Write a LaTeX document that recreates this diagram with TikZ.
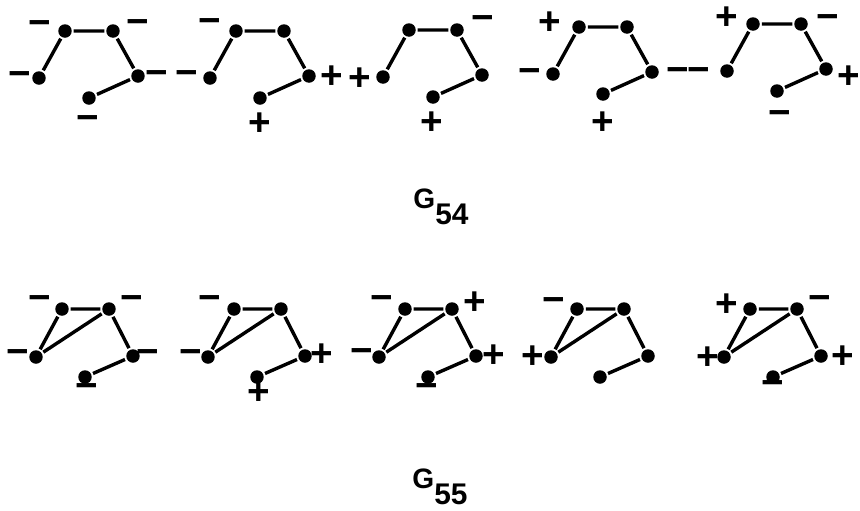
\documentclass[tikz,border=0pt]{standalone}
\usepackage{fontspec}
\setmainfont{Liberation Sans}
\usepackage{tikz}
\tikzset{
  gdot/.style={circle,fill=black,inner sep=0pt,minimum size=0.27cm,outer sep=0.04cm},
  gedge/.style={line width=0.068cm,draw=black},
  gsign/.style={inner sep=0pt,font=\fontsize{22}{22}\selectfont\bfseries},
  gname/.style={inner sep=0pt,font=\bfseries}
}
\newcommand{\gsub}[1]{{\fontsize{16}{16}\selectfont G}\raisebox{-9pt}{\fontsize{17}{17}\selectfont #1}}

\begin{document}
\begin{tikzpicture}[x=0.02cm,y=-0.02cm]
  \useasboundingbox (0,0) rectangle (860,511);
  % upper row: five copies of G54
  \foreach \i/\x/\y in {1/39/78,2/210/78,3/383/77,4/553/74,5/727/71}{
    \begin{scope}[shift={(\x,\y)}]
      \node[gdot] (a\i-l) at (0,0) {};
      \node[gdot] (a\i-tl) at (26,-47) {};
      \node[gdot] (a\i-tr) at (74,-47) {};
      \node[gdot] (a\i-r) at (99,-2) {};
      \node[gdot] (a\i-b) at (50,20) {};
    \end{scope}
    \draw[gedge] (a\i-l) -- (a\i-tl) -- (a\i-tr) -- (a\i-r) -- (a\i-b);
  }
  \foreach \n/\s/\x/\y in {a1-ptl/−/40/28, a1-ptr/−/138/27, a1-pl/−/20/79, a1-pr/−/157/78, a1-pb/−/88/123,
      a2-ptl/−/210/26, a2-pl/−/187/78, a2-pr/+/332/77, a2-pb/+/260/124,
      a3-pl/+/360/79, a3-ptr/−/483/23, a3-pb/+/432/123,
      a4-ptl/+/550/23, a4-pl/−/530/76, a4-pr/−/678/75, a4-pb/+/603/123,
      a5-ptl/+/727/18, a5-ptr/−/828/22, a5-pl/−/699/75, a5-pr/+/849/77, a5-pb/−/780/118}
    \node[gsign] (\n) at (\x,\y) {\s};
  \node[gname] (g54) at (441,207) {\gsub{54}};
  % lower row: five copies of G55
  \foreach \i/\x/\y in {1/36/357,2/208/357,3/379/357,4/551/357,5/724/357}{
    \begin{scope}[shift={(\x,\y)}]
      \node[gdot] (b\i-l) at (0,0) {};
      \node[gdot] (b\i-tl) at (26,-48) {};
      \node[gdot] (b\i-tr) at (73,-48) {};
      \node[gdot] (b\i-r) at (97,-1) {};
      \node[gdot] (b\i-b) at (49,20) {};
    \end{scope}
    \draw[gedge] (b\i-l) -- (b\i-tl) -- (b\i-tr) -- (b\i-r) -- (b\i-b);
    \draw[gedge] (b\i-l) -- (b\i-tr);
  }
  \foreach \n/\s/\x/\y in {b1-ptl/−/40/303, b1-ptr/−/132/303, b1-pl/−/18/357, b1-pr/−/148/357, b1-pb/−/87/391,
      b2-ptl/−/210/303, b2-pl/−/191/357, b2-pr/+/322/355, b2-pb/+/259/393,
      b3-ptl/−/382/303, b3-ptr/+/475/303, b3-pl/−/362/356, b3-pr/+/494/356, b3-pb/−/427/391,
      b4-ptl/−/554/305, b4-pl/+/533/357,
      b5-ptl/+/727/305, b5-ptr/−/820/303, b5-pl/+/708/358, b5-pr/+/843/357, b5-pb/−/773/388}
    \node[gsign] (\n) at (\x,\y) {\s};
  \node[gname] (g55) at (440,487) {\gsub{55}};
\end{tikzpicture}
\end{document}
